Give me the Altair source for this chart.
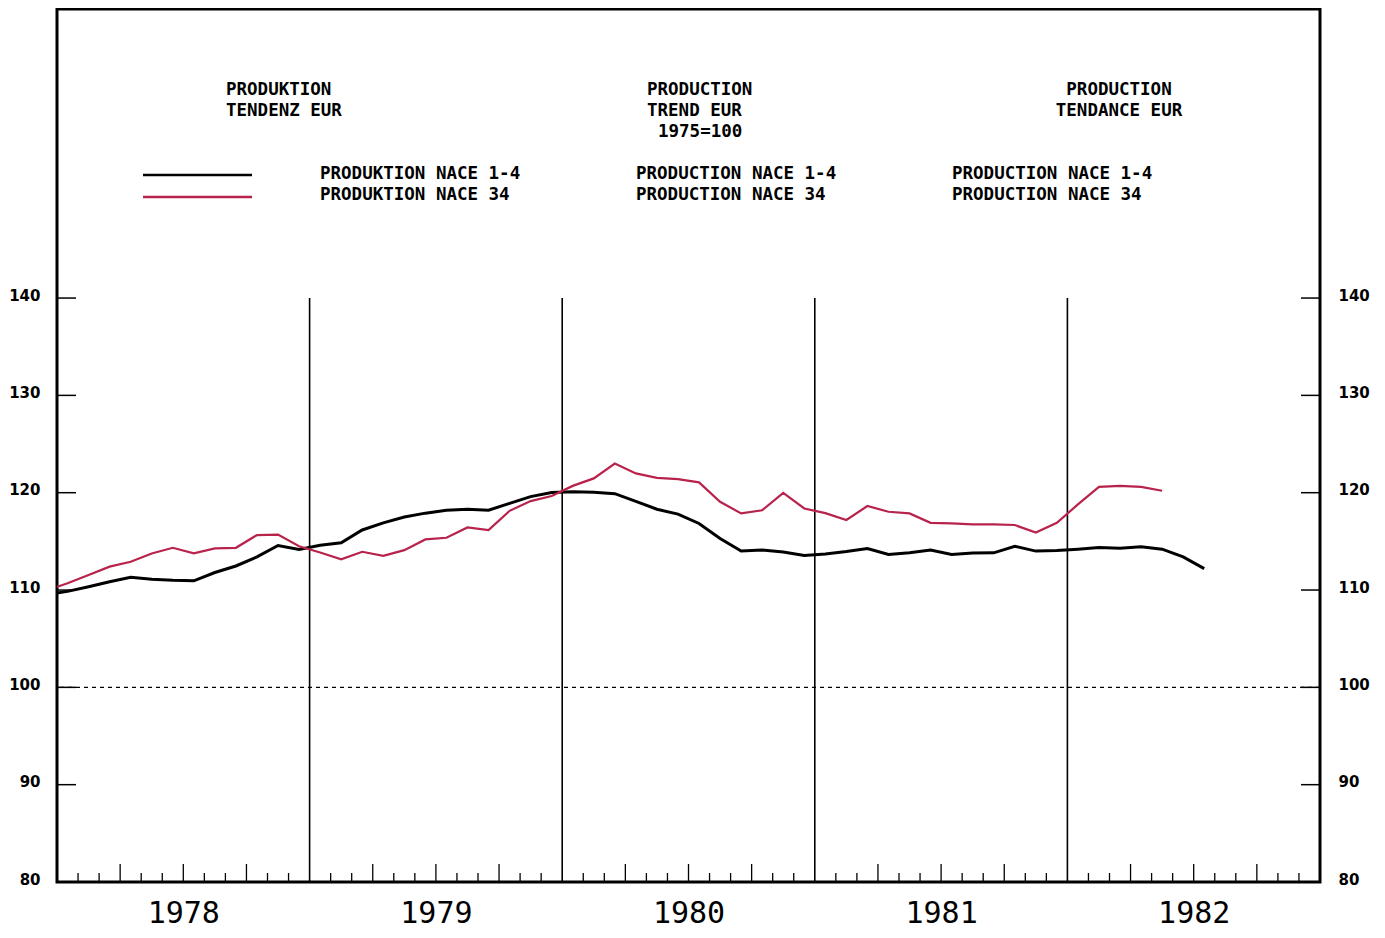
import altair as alt
import pandas as pd

# ---- data (monthly, Dec 1977 .. Jul 1982), index 1975=100 ----
start_year = 1977
start_month = 12
nace_1_4 = [109.55, 109.86, 110.33, 110.85, 111.3, 111.1, 111.0, 110.95, 111.8, 112.47,
            113.4, 114.58, 114.17, 114.6, 114.85, 116.17, 116.9, 117.5, 117.9, 118.2,
            118.3, 118.2, 118.9, 119.6, 120.03, 120.1, 120.05, 119.9, 119.1, 118.3,
            117.8, 116.84, 115.3, 114.0, 114.1, 113.9, 113.55, 113.7, 113.95, 114.27,
            113.65, 113.82, 114.1, 113.65, 113.8, 113.82, 114.5, 114.0, 114.05, 114.2,
            114.37, 114.3, 114.44, 114.2, 113.4, 112.2]
nace_34 = [109.95, 110.7, 111.55, 112.4, 112.9, 113.76, 114.34, 113.76, 114.27, 114.34,
           115.65, 115.7, 114.5, 113.85, 113.15, 113.93, 113.52, 114.1, 115.2, 115.37,
           116.43, 116.16, 118.14, 119.14, 119.66, 120.7, 121.47, 123.0, 121.98, 121.53,
           121.4, 121.06, 119.07, 117.87, 118.2, 119.98, 118.38, 117.9, 117.2, 118.63,
           118.04, 117.87, 116.9, 116.84, 116.74, 116.74, 116.68, 115.9, 116.9, 118.8,
           120.6, 120.7, 120.6, 120.2]
years = ["1978", "1979", "1980", "1981", "1982"]
y_ticks = [80, 90, 100, 110, 120, 130, 140]

titles_de = ["PRODUKTION", "TENDENZ EUR"]
titles_en = ["PRODUCTION", "TREND EUR", "1975=100"]
titles_fr = ["PRODUCTION", "TENDANCE EUR"]
legend_de = ["PRODUKTION NACE 1-4", "PRODUKTION NACE 34"]
legend_en = ["PRODUCTION NACE 1-4", "PRODUCTION NACE 34"]
legend_fr = ["PRODUCTION NACE 1-4", "PRODUCTION NACE 34"]

RED = "#b8234c"
W, H = 1263, 873
n_months = 12 * len(years)

# month position (months since Jan 1978), plotted at mid-month
def month_pos(i):
    total = (start_year - 1978) * 12 + (start_month - 1) + i
    return total + 0.5

df_black = pd.DataFrame({"m": [month_pos(i) for i in range(len(nace_1_4))], "v": nace_1_4})
df_red = pd.DataFrame({"m": [month_pos(i) for i in range(len(nace_34))], "v": nace_34})

xscale = alt.Scale(domain=[0, n_months], nice=False, zero=False)
yscale = alt.Scale(domain=[80, 169.7], nice=False, zero=False)

label_expr = " : ".join(
    [f"datum.value == {12 * i + 6} ? '{y}'" for i, y in enumerate(years)]) + " : ''"

x_axis = alt.Axis(values=[12 * i + 6 for i in range(len(years))], labelExpr=label_expr,
                  tickSize=0, domain=False, grid=False, labelPadding=16,
                  labelFont="DejaVu Sans Mono", labelFontSize=30, labelColor="black",
                  labelFontWeight="normal", title=None, orient="bottom")
y_axis_left = alt.Axis(values=y_ticks, tickSize=0, domain=False, grid=False,
                       labelPadding=17, labelOffset=-3, labelFont="DejaVu Sans",
                       labelFontSize=15, labelFontWeight="bold", labelColor="black",
                       title=None, orient="left")
y_axis_right = alt.Axis(values=y_ticks, tickSize=0, domain=False, grid=False,
                        labelPadding=18, labelOffset=-3, labelFont="DejaVu Sans",
                        labelFontSize=15, labelFontWeight="bold", labelColor="black",
                        title=None, orient="right")

black_line = alt.Chart(df_black).mark_line(color="black", strokeWidth=3, clip=True).encode(
    x=alt.X("m:Q", scale=xscale, axis=x_axis),
    y=alt.Y("v:Q", scale=yscale, axis=y_axis_left),
)
red_line = alt.Chart(df_red).mark_line(color=RED, strokeWidth=2.2, clip=True).encode(
    x=alt.X("m:Q", scale=xscale, axis=None),
    y=alt.Y("v:Q", scale=yscale, axis=None),
)

# right-hand axis labels + inward ticks
df_yt = pd.DataFrame({"v": [t for t in y_ticks if t > 80]})
right_ticks = alt.Chart(df_yt).mark_rule(color="black", strokeWidth=1.5).encode(
    y=alt.Y("v:Q", scale=yscale, axis=y_axis_right),
    x=alt.value(W - 19), x2=alt.value(W),
)
left_ticks = alt.Chart(df_yt).mark_rule(color="black", strokeWidth=1.5).encode(
    y=alt.Y("v:Q", scale=yscale, axis=None),
    x=alt.value(0), x2=alt.value(19),
)

# monthly ticks on bottom (inward), quarter ticks taller
tick_m = [m for m in range(1, n_months) if m % 12 != 0]
short_m = pd.DataFrame({"m": [m for m in tick_m if m % 3 != 0]})
tall_m = pd.DataFrame({"m": [m for m in tick_m if m % 3 == 0]})
short_ticks = alt.Chart(short_m).mark_rule(color="black", strokeWidth=1.3).encode(
    x=alt.X("m:Q", scale=xscale, axis=None), y=alt.value(H), y2=alt.value(H - 9))
tall_ticks = alt.Chart(tall_m).mark_rule(color="black", strokeWidth=1.3).encode(
    x=alt.X("m:Q", scale=xscale, axis=None), y=alt.value(H), y2=alt.value(H - 18))

# year separators
df_yl = pd.DataFrame({"m": [12 * i for i in range(1, len(years))], "top": 140, "bot": 80})
year_lines = alt.Chart(df_yl).mark_rule(color="black", strokeWidth=1.6).encode(
    x=alt.X("m:Q", scale=xscale, axis=None),
    y=alt.Y("top:Q", scale=yscale, axis=None), y2="bot:Q",
)

base_line = alt.Chart(pd.DataFrame({"v": [100]})).mark_rule(
    color="black", strokeWidth=1.3, strokeDash=[4, 4]).encode(
    y=alt.Y("v:Q", scale=yscale, axis=None))

def txt(s, x, y, align="left"):
    return alt.Chart(pd.DataFrame({"t": [s]})).mark_text(
        align=align, baseline="middle", font="DejaVu Sans Mono", fontSize=17.5,
        fontWeight="bold", color="black").encode(
        text="t:N", x=alt.value(x), y=alt.value(y))

texts = [
    txt(titles_de[0], 169, 81), txt(titles_de[1], 169, 102),
    txt(titles_en[0], 590, 81), txt(titles_en[1], 590, 102), txt(titles_en[2], 601, 123),
    txt(titles_fr[0], 1062, 81, "center"), txt(titles_fr[1], 1062, 102, "center"),
    txt(legend_de[0], 263, 165), txt(legend_de[1], 263, 186),
    txt(legend_en[0], 579, 165), txt(legend_en[1], 579, 186),
    txt(legend_fr[0], 895, 165), txt(legend_fr[1], 895, 186),
]

leg_black = alt.Chart(pd.DataFrame({"a": [0]})).mark_rule(color="black", strokeWidth=2.5).encode(
    x=alt.value(86), x2=alt.value(195), y=alt.value(166))
leg_red = alt.Chart(pd.DataFrame({"a": [0]})).mark_rule(color=RED, strokeWidth=2.5).encode(
    x=alt.value(86), x2=alt.value(195), y=alt.value(188))

chart = alt.layer(
    black_line, base_line, year_lines, short_ticks, tall_ticks, left_ticks, right_ticks,
    red_line, leg_black, leg_red, *texts
).resolve_axis(x="independent", y="independent").properties(
    width=W, height=H,
    autosize="none",
    padding={"left": 49, "top": 1, "right": 50, "bottom": 47},
    background="white",
).configure_view(stroke="black", strokeWidth=3)

chart.save("out.html", embed_options={"renderer": "svg", "actions": False})
